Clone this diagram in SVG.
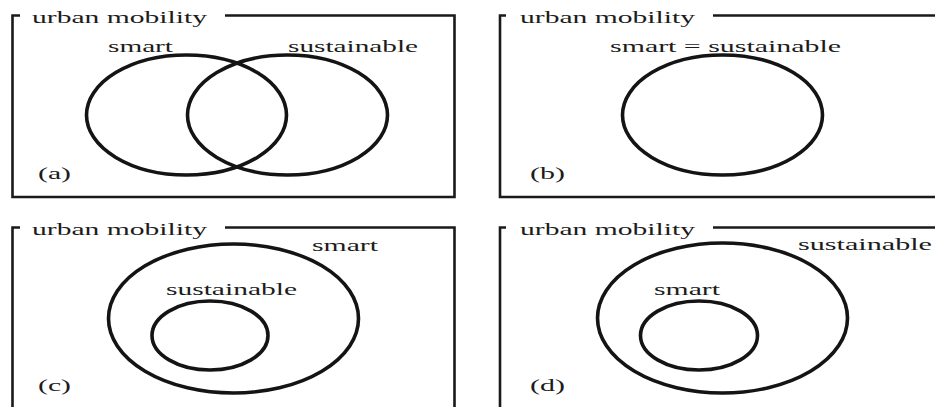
<svg xmlns="http://www.w3.org/2000/svg" width="935" height="407" viewBox="0 0 935 407">
  <style>
    .frame { fill: none; stroke: #1a1a1a; stroke-width: 2.6; stroke-linejoin: miter; }
    .set { fill: none; stroke: #141414; stroke-width: 3.6; }
    text { font-family: "Liberation Serif", "Times New Roman", serif; font-size: 17.5px; fill: #1c1c1c; }
  </style>
  <rect x="0" y="0" width="935" height="407" fill="#ffffff"/>

  <!-- Panel (a) -->
  <g id="panel-a">
    <g id="a-frame">
      <path class="frame" d="M20,15.5 H12.5 V197 H454.5 V15.5 H225"/>
      <text x="32" y="23" textLength="175" lengthAdjust="spacingAndGlyphs">urban mobility</text>
      <text x="38" y="179" textLength="33" lengthAdjust="spacingAndGlyphs">(a)</text>
    </g>
    <g id="a-smart">
      <ellipse class="set" cx="186.5" cy="115" rx="100" ry="60"/>
      <text x="108" y="52" textLength="65" lengthAdjust="spacingAndGlyphs">smart</text>
    </g>
    <g id="a-sustainable">
      <ellipse class="set" cx="287.5" cy="115" rx="100" ry="60"/>
      <text x="288" y="52" textLength="130" lengthAdjust="spacingAndGlyphs">sustainable</text>
    </g>
  </g>

  <!-- Panel (b) -->
  <g id="panel-b">
    <g id="b-frame">
      <path class="frame" d="M506,15.5 H500 V197 H940"/>
      <path class="frame" d="M713,15.5 H940"/>
      <text x="520" y="23" textLength="175" lengthAdjust="spacingAndGlyphs">urban mobility</text>
      <text x="530" y="179" textLength="35" lengthAdjust="spacingAndGlyphs">(b)</text>
    </g>
    <g id="b-smart-sustainable">
      <ellipse class="set" cx="722.5" cy="115" rx="100" ry="60"/>
      <text x="610" y="52" textLength="231" lengthAdjust="spacingAndGlyphs">smart = sustainable</text>
    </g>
  </g>

  <!-- Panel (c) -->
  <g id="panel-c">
    <g id="c-frame">
      <path class="frame" d="M20,227.5 H12.5 V412"/>
      <path class="frame" d="M225,227.5 H454.5 V412"/>
      <text x="32" y="234.5" textLength="175" lengthAdjust="spacingAndGlyphs">urban mobility</text>
      <text x="38" y="391" textLength="33" lengthAdjust="spacingAndGlyphs">(c)</text>
    </g>
    <g id="c-smart">
      <ellipse class="set" cx="233.5" cy="318.5" rx="125" ry="74.5"/>
      <text x="312" y="250.5" textLength="66" lengthAdjust="spacingAndGlyphs">smart</text>
    </g>
    <g id="c-sustainable">
      <ellipse class="set" cx="210" cy="335.5" rx="58" ry="34.5"/>
      <text x="166" y="295" textLength="131" lengthAdjust="spacingAndGlyphs">sustainable</text>
    </g>
  </g>

  <!-- Panel (d) -->
  <g id="panel-d">
    <g id="d-frame">
      <path class="frame" d="M506,227.5 H500 V412"/>
      <path class="frame" d="M713,227.5 H940"/>
      <text x="520" y="234.5" textLength="175" lengthAdjust="spacingAndGlyphs">urban mobility</text>
      <text x="530" y="391" textLength="35" lengthAdjust="spacingAndGlyphs">(d)</text>
    </g>
    <g id="d-sustainable">
      <ellipse class="set" cx="722.5" cy="318" rx="125" ry="75"/>
      <text x="798" y="250" textLength="134" lengthAdjust="spacingAndGlyphs">sustainable</text>
    </g>
    <g id="d-smart">
      <ellipse class="set" cx="699" cy="335.5" rx="58.5" ry="34.5"/>
      <text x="654" y="295" textLength="66" lengthAdjust="spacingAndGlyphs">smart</text>
    </g>
  </g>
</svg>
